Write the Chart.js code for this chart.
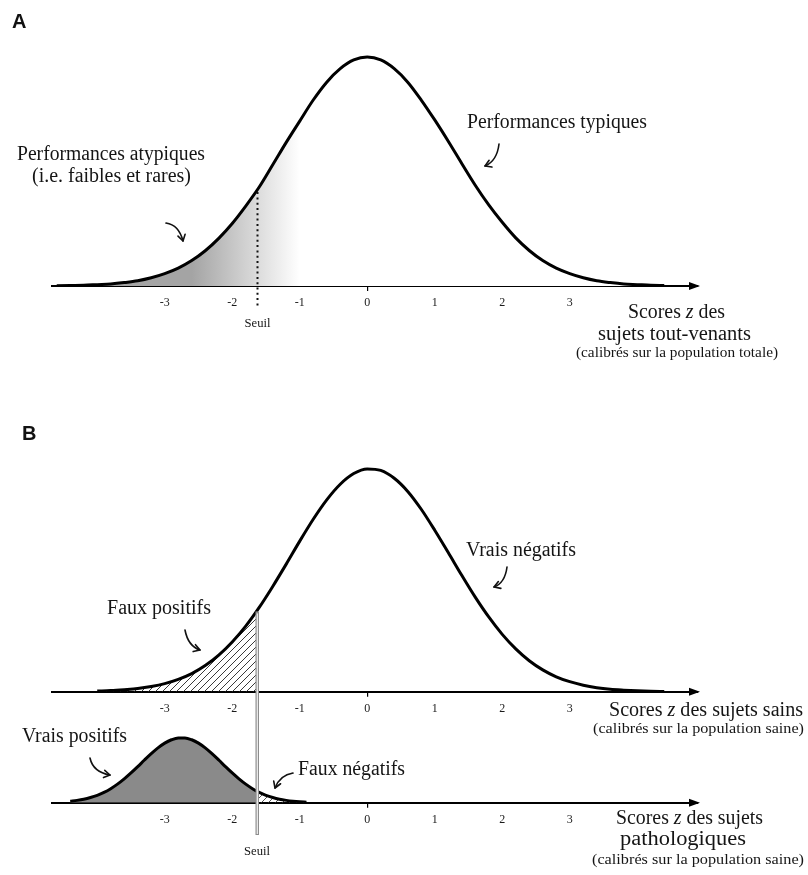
<!DOCTYPE html>
<html><head><meta charset="utf-8">
<script src="https://cdn.jsdelivr.net/npm/chart.js@4.4.1/dist/chart.umd.min.js"></script>
<style>
html,body{margin:0;padding:0;background:#fff;}
#wrap{position:relative;width:808px;height:875px;overflow:hidden;background:#fff;}
canvas{position:absolute;left:0;top:0;}
</style></head><body>
<div id="wrap">
<canvas id="cA" width="808" height="875"></canvas>
<canvas id="cB1" width="808" height="875"></canvas>
<canvas id="cB2" width="808" height="875"></canvas>
</div>
<script>
// ---------------- data ----------------
const tickValues = [-3, -2, -1, 0, 1, 2, 3];
const tickLabels = ['-3', '-2', '-1', '0', '1', '2', '3'];
const seuilZ = -1.64;          // threshold position (z)
const seuilTopA = 0.41;        // curve height at threshold, panel A
const seuilTopB = 0.36;        // curve height at threshold, healthy curve, panel B

// Panel A : all subjects
const zA = [-4.6,-4.4,-4.2,-4.0,-3.8,-3.6,-3.4,-3.2,-3.0,-2.8,-2.6,-2.4,-2.2,-2.0,-1.8,-1.6,-1.4,-1.2,-1.0,-0.8,-0.6,-0.4,-0.2,0,
            0.2,0.4,0.6,0.8,1.0,1.2,1.4,1.6,1.8,2.0,2.2,2.4,2.6,2.8,3.0,3.2,3.4,3.6,3.8,4.0,4.2,4.4];
const densA = [0.001,0.002,0.003,0.006,0.009,0.015,0.023,0.036,0.054,0.078,0.111,0.154,0.208,0.273,0.349,0.432,0.529,0.627,0.72,0.812,0.89,0.949,0.987,1.0,
            0.987,0.949,0.89,0.812,0.725,0.632,0.535,0.44,0.354,0.278,0.21,0.155,0.111,0.078,0.054,0.036,0.023,0.015,0.009,0.006,0.003,0.002];

// Panel B : healthy subjects
const zSains = [-4.0,-3.8,-3.6,-3.4,-3.2,-3.0,-2.8,-2.6,-2.4,-2.2,-2.0,-1.8,-1.6,-1.4,-1.2,-1.0,-0.8,-0.6,-0.4,-0.2,0,
            0.2,0.4,0.6,0.8,1.0,1.2,1.4,1.6,1.8,2.0,2.2,2.4,2.6,2.8,3.0,3.2,3.4,3.6,3.8,4.0,4.2,4.4];
const densSains = [0.003,0.005,0.009,0.014,0.023,0.036,0.055,0.081,0.117,0.164,0.223,0.294,0.378,0.472,0.572,0.675,0.773,0.86,0.93,0.978,0.999,
            0.992,0.957,0.898,0.818,0.724,0.624,0.522,0.424,0.335,0.257,0.192,0.139,0.098,0.067,0.045,0.029,0.018,0.011,0.007,0.004,0.002,0.001];

// Panel B : pathological subjects
const zPatho = [-4.4,-4.3,-4.2,-4.1,-4.0,-3.9,-3.8,-3.7,-3.6,-3.5,-3.4,-3.3,-3.2,-3.1,-3.0,-2.9,-2.8,-2.7,
            -2.6,-2.5,-2.4,-2.3,-2.2,-2.1,-2.0,-1.9,-1.8,-1.7,-1.6,-1.5,-1.4,-1.3,-1.2,-1.1,-1.0,-0.9];
const densPatho = [0.023,0.036,0.054,0.08,0.114,0.159,0.216,0.286,0.367,0.458,0.556,0.657,0.755,0.844,0.917,0.969,0.997,0.997,
            0.969,0.917,0.844,0.755,0.657,0.556,0.458,0.367,0.286,0.216,0.159,0.114,0.08,0.054,0.036,0.023,0.014,0.008];

// ---------------- helpers ----------------
const Z_MIN = -4.67, Z_MAX = 4.9;
const AXIS_H = 30;
const SERIF = '"Liberation Serif", "Times New Roman", serif';
const LABEL_SIZE = 20;

const pts = (xs, ys) => xs.map((x, i) => ({ x: x, y: ys[i] }));

function fitText(ctx, parts, cx, base, width, size) {
  ctx.save();
  ctx.fillStyle = '#151515';
  ctx.textBaseline = 'alphabetic';
  ctx.textAlign = 'left';
  const ws = []; let total = 0;
  parts.forEach(p => { ctx.font = (p.i ? 'italic ' : '') + size + 'px ' + SERIF; const w = ctx.measureText(p.t).width; ws.push(w); total += w; });
  ctx.translate(cx - width / 2, base);
  ctx.scale(width / total, 1);
  let x = 0;
  parts.forEach((p, k) => { ctx.font = (p.i ? 'italic ' : '') + size + 'px ' + SERIF; ctx.fillText(p.t, x, 0); x += ws[k]; });
  ctx.restore();
}
function curly(ctx, p0, c, p1) {
  ctx.save();
  ctx.strokeStyle = '#111'; ctx.lineWidth = 1.6; ctx.lineCap = 'round'; ctx.lineJoin = 'round';
  ctx.beginPath(); ctx.moveTo(p0[0], p0[1]); ctx.quadraticCurveTo(c[0], c[1], p1[0], p1[1]); ctx.stroke();
  const ang = Math.atan2(p1[1] - c[1], p1[0] - c[0]);
  const L = 7, a = 0.55;
  ctx.beginPath();
  ctx.moveTo(p1[0] - L * Math.cos(ang - a), p1[1] - L * Math.sin(ang - a));
  ctx.lineTo(p1[0], p1[1]);
  ctx.lineTo(p1[0] - L * Math.cos(ang + a), p1[1] - L * Math.sin(ang + a));
  ctx.stroke();
  ctx.restore();
}
function axisArrow(chart) {
  const s = chart.scales.x, ctx = chart.ctx, y = s.top, x = s.right;
  ctx.save(); ctx.fillStyle = '#000';
  ctx.beginPath(); ctx.moveTo(x + 2, y); ctx.lineTo(x - 9, y - 4); ctx.lineTo(x - 9, y + 4); ctx.closePath(); ctx.fill();
  ctx.restore();
}
function regionFill(chart, key, fromZ, toZ, bg, hatch) {
  if (!chart.chartArea) return 'rgba(0,0,0,0)';
  chart.$fills = chart.$fills || {};
  if (chart.$fills[key]) return chart.$fills[key];
  const sx = chart.scales.x;
  const x0 = sx.getPixelForValue(fromZ), x1 = sx.getPixelForValue(toZ);
  const off = document.createElement('canvas');
  off.width = chart.width; off.height = chart.height;
  const c = off.getContext('2d');
  c.beginPath(); c.rect(x0, 0, x1 - x0, off.height); c.clip();
  if (bg) { c.fillStyle = bg; c.fillRect(0, 0, off.width, off.height); }
  if (hatch) {
    c.strokeStyle = hatch; c.lineWidth = 1;
    for (let k = -off.height; k < off.width; k += 7) {
      c.beginPath(); c.moveTo(k, off.height); c.lineTo(k + off.height, 0); c.stroke();
    }
  }
  const pat = chart.ctx.createPattern(off, 'no-repeat');
  chart.$fills[key] = pat;
  return pat;
}

function makeChart(id, datasets, areaTop, areaBottom, plugin) {
  return new Chart(document.getElementById(id), {
    type: 'line',
    data: { datasets: datasets },
    options: {
      responsive: false, animation: false, devicePixelRatio: 1, events: [],
      layout: { padding: { left: 52, right: 110, top: areaTop, bottom: 875 - areaBottom - AXIS_H } },
      plugins: { legend: { display: false }, tooltip: { enabled: false } },
      scales: {
        x: {
          type: 'linear', min: Z_MIN, max: Z_MAX,
          afterBuildTicks: s => { s.ticks = tickValues.map(v => ({ value: v })); },
          afterFit: s => { s.height = AXIS_H; },
          grid: { display: true, drawOnChartArea: false, drawTicks: true, tickLength: 5, lineWidth: 1.2,
                  color: c => (c.tick && c.tick.value === 0) ? '#000' : 'rgba(0,0,0,0)' },
          border: { display: true, color: '#000', width: 2 },
          ticks: { padding: 5, color: '#1a1a1a', autoSkip: false, maxRotation: 0,
                   font: { family: SERIF, size: 12 },
                   callback: v => tickLabels[tickValues.indexOf(v)] }
        },
        y: { display: false, min: 0, max: 1.05 }
      }
    },
    plugins: [plugin]
  });
}

const curveStyle = { borderColor: '#000', borderWidth: 3, pointRadius: 0, fill: false, cubicInterpolationMode: 'monotone', order: 0 };
const fillStyle = { borderColor: 'rgba(0,0,0,0)', borderWidth: 0, pointRadius: 0, fill: 'origin', cubicInterpolationMode: 'monotone', order: 1 };

// ---------------- Panel A ----------------
const chartA = makeChart('cA', [
  Object.assign({ label: 'Population totale', data: pts(zA, densA) }, curveStyle),
  Object.assign({ label: 'Performances atypiques', data: pts(zA, densA),
    backgroundColor: c => {
      const ch = c.chart; if (!ch.chartArea) return 'rgba(0,0,0,0)';
      const sx = ch.scales.x;
      const g = ch.ctx.createLinearGradient(sx.getPixelForValue(-2.6), 0, sx.getPixelForValue(-1.0), 0);
      g.addColorStop(0, '#a4a4a4'); g.addColorStop(1, '#ffffff');
      return g;
    } }, fillStyle)
], 45.5, 286, {
  id: 'annotA',
  afterDraw(chart) {
    const ctx = chart.ctx, sx = chart.scales.x, sy = chart.scales.y;
    axisArrow(chart);
    // dotted threshold
    const xs = Math.round(sx.getPixelForValue(seuilZ)) + 0.5;
    ctx.save(); ctx.strokeStyle = '#111'; ctx.lineWidth = 2; ctx.setLineDash([2, 3.3]);
    ctx.beginPath(); ctx.moveTo(xs, sy.getPixelForValue(seuilTopA)); ctx.lineTo(xs, sx.top + 22); ctx.stroke();
    ctx.restore();
    fitText(ctx, [{ t: 'Seuil' }], xs, 327, 26, 12);
    // letter
    ctx.save(); ctx.fillStyle = '#111'; ctx.font = 'bold 20px "Liberation Sans", Arial, sans-serif';
    ctx.fillText('A', 12, 28); ctx.restore();
    fitText(ctx, [{ t: 'Performances atypiques' }], 111, 160, 188, LABEL_SIZE);
    fitText(ctx, [{ t: '(i.e. faibles et rares)' }], 111.5, 182, 159, LABEL_SIZE);
    fitText(ctx, [{ t: 'Performances typiques' }], 557, 128, 180, LABEL_SIZE);
    fitText(ctx, [{ t: 'Scores ' }, { t: 'z', i: 1 }, { t: ' des' }], 676.5, 318, 97, LABEL_SIZE);
    fitText(ctx, [{ t: 'sujets tout-venants' }], 674.5, 340, 153, LABEL_SIZE);
    fitText(ctx, [{ t: '(calibrés sur la population totale)' }], 677, 357, 202, 14);
    curly(ctx, [166, 223], [179, 225], [183, 241]);
    curly(ctx, [499, 144], [497, 161], [485, 166]);
  }
});

// ---------------- Panel B : healthy ----------------
const chartB1 = makeChart('cB1', [
  Object.assign({ label: 'Sujets sains', data: pts(zSains, densSains) }, curveStyle),
  Object.assign({ label: 'Faux positifs', data: pts(zSains, densSains),
    backgroundColor: c => regionFill(c.chart, 'fp', Z_MIN, seuilZ, null, '#3a3a3a') }, fillStyle)
], 457.5, 691.7, {
  id: 'annotB1',
  afterDraw(chart) {
    const ctx = chart.ctx;
    axisArrow(chart);
    ctx.save(); ctx.fillStyle = '#111'; ctx.font = 'bold 20px "Liberation Sans", Arial, sans-serif';
    ctx.fillText('B', 22, 440); ctx.restore();
    fitText(ctx, [{ t: 'Faux positifs' }], 159, 614, 104, LABEL_SIZE);
    fitText(ctx, [{ t: 'Vrais négatifs' }], 521, 556, 110, LABEL_SIZE);
    fitText(ctx, [{ t: 'Scores ' }, { t: 'z', i: 1 }, { t: ' des sujets sains' }], 706, 716, 194, LABEL_SIZE);
    fitText(ctx, [{ t: '(calibrés sur la population saine)' }], 698.5, 733, 211, 14);
    curly(ctx, [185, 630], [188, 646], [200, 650]);
    curly(ctx, [507, 567], [505, 583], [494, 587]);
  }
});

// ---------------- Panel B : pathological ----------------
const chartB2 = makeChart('cB2', [
  Object.assign({ label: 'Sujets pathologiques', data: pts(zPatho, densPatho) }, curveStyle),
  Object.assign({ label: 'Vrais positifs', data: pts(zPatho, densPatho),
    backgroundColor: c => regionFill(c.chart, 'vp', Z_MIN, seuilZ, '#8a8a8a', null) }, fillStyle),
  Object.assign({ label: 'Faux négatifs', data: pts(zPatho, densPatho),
    backgroundColor: c => regionFill(c.chart, 'fn', seuilZ, Z_MAX, null, '#555') }, fillStyle)
], 734.5, 802.7, {
  id: 'annotB2',
  afterDraw(chart) {
    const ctx = chart.ctx, sx = chart.scales.x;
    axisArrow(chart);
    // double threshold line spanning both curves
    const xs = Math.round(sx.getPixelForValue(seuilZ));
    const top = chartB1.scales.y.getPixelForValue(seuilTopB);
    ctx.save();
    ctx.fillStyle = '#8c8c8c'; ctx.fillRect(xs - 1.5, top, 3.5, 835 - top);
    ctx.fillStyle = '#ffffff'; ctx.fillRect(xs - 0.3, top + 2, 1.1, 835 - top - 3);
    ctx.restore();
    fitText(ctx, [{ t: 'Seuil' }], xs, 855, 26, 12);
    fitText(ctx, [{ t: 'Vrais positifs' }], 74.5, 742, 105, LABEL_SIZE);
    fitText(ctx, [{ t: 'Faux négatifs' }], 351.5, 775, 107, LABEL_SIZE);
    fitText(ctx, [{ t: 'Scores ' }, { t: 'z', i: 1 }, { t: ' des sujets' }], 689.5, 824, 147, LABEL_SIZE);
    fitText(ctx, [{ t: 'pathologiques' }], 683, 845, 126, LABEL_SIZE);
    fitText(ctx, [{ t: '(calibrés sur la population saine)' }], 698, 864, 212, 14);
    curly(ctx, [90, 758], [93, 772], [110, 775]);
    curly(ctx, [293, 773], [280, 775], [275, 788]);
  }
});
</script>
</body></html>
